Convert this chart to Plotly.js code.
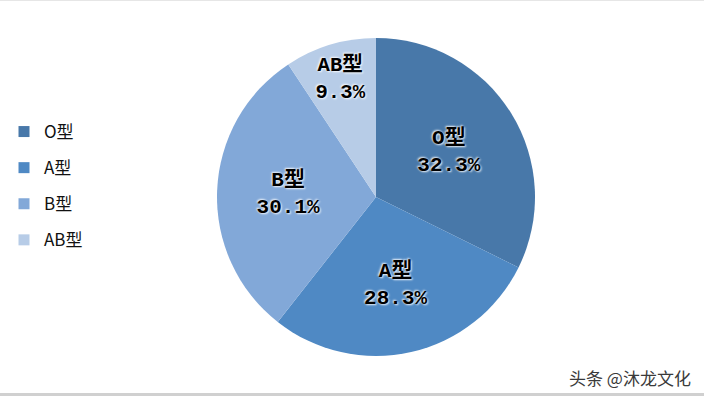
<!DOCTYPE html>
<html>
<head>
<meta charset="utf-8">
<script src="https://cdn.plot.ly/plotly-3.0.1.min.js"></script>
<style>
html,body{margin:0;padding:0;background:#fff;}
#chart{width:704px;height:396px;}
</style>
</head>
<body>
<div id="chart"></div>
<script>
const categories = ["O型", "A型", "B型", "AB型"];
const values = [32.3, 28.3, 30.1, 9.3];
const colors = ["#4878A9", "#4F89C4", "#82A8D8", "#B7CCE7"];
const watermark = "头条 @沐龙文化";

const pie = {
  type: "pie",
  labels: categories,
  values: values,
  sort: false,
  direction: "clockwise",
  rotation: 0,
  marker: {colors: colors, line: {width: 0}},
  texttemplate: "%{label}<br>%{value:.1f}%",
  textposition: "inside",
  insidetextorientation: "horizontal",
  textfont: {
    family: "Liberation Mono, 'Noto Sans CJK SC', monospace",
    size: 21,
    weight: "bold",
    color: "#000",
    shadow: "1px 1px 2px rgba(255,255,255,0.9), -1px -1px 2px rgba(255,255,255,0.9)"
  },
  hoverinfo: "none",
  showlegend: false,
  domain: {x: [217/704, 535/704], y: [(396-356)/396, (396-38)/396]}
};

const legendTraces = categories.map((c, i) => ({
  type: "scatter",
  mode: "markers",
  x: [null], y: [null],
  name: c,
  legendgroup: "g" + i,
  marker: {symbol: "square", size: 11, color: colors[i]},
  hoverinfo: "none"
}));

const layout = {
  width: 704, height: 396,
  margin: {l: 0, r: 0, t: 0, b: 0},
  paper_bgcolor: "#fff",
  plot_bgcolor: "#fff",
  xaxis: {visible: false, domain: [0, 0.01]},
  yaxis: {visible: false, domain: [0, 0.01]},
  showlegend: true,
  legend: {
    x: 4/704, xanchor: "left",
    y: (396-114)/396, yanchor: "top",
    font: {family: "'Noto Sans CJK SC', 'Noto Sans', sans-serif", size: 17, color: "#111"},
    tracegroupgap: 11,
    itemwidth: 30,
    bgcolor: "rgba(0,0,0,0)"
  },
  annotations: [{
    text: watermark,
    xref: "paper", yref: "paper",
    x: 693/704, y: (396-377)/396,
    xanchor: "right", yanchor: "middle",
    showarrow: false,
    font: {family: "'Noto Sans CJK SC', sans-serif", size: 17, color: "#3a3a3a"}
  }],
  shapes: [
    {type: "line", xref: "paper", yref: "paper", x0: 0, x1: 1, y0: 1.5/396, y1: 1.5/396, line: {color: "#d0d0d0", width: 3}},
    {type: "line", xref: "paper", yref: "paper", x0: 0, x1: 1, y0: 1 - 0.5/396, y1: 1 - 0.5/396, line: {color: "#e6e6e6", width: 1}}
  ]
};

Plotly.newPlot("chart", [pie].concat(legendTraces), layout, {displayModeBar: false, staticPlot: true});
</script>
</body>
</html>
